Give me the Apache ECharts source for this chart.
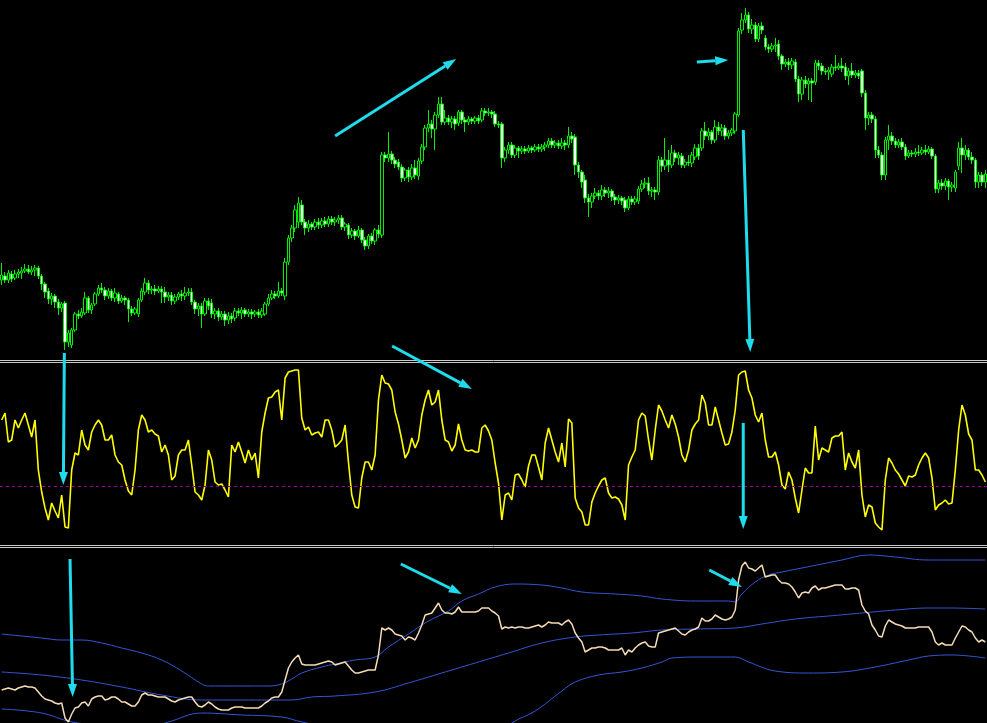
<!DOCTYPE html>
<html>
<head>
<meta charset="utf-8">
<script src="https://cdn.jsdelivr.net/npm/echarts@6/dist/echarts.min.js"></script>
<style>
html, body { margin: 0; padding: 0; background: #000; }
#chart { width: 987px; height: 723px; }
</style>
</head>
<body>
<div id="chart"></div>
<script>
// price candles, one entry per bar
var open = [
  120,124,120,126,122,126,127,129,131,128, 130,132,124,116,109,101,104,98,92,97,
  58,55,70,86,84,87,102,90,96,106, 112,110,104,109,102,106,99,102,100,91,
  87,86,100,108,117,110,111,109,111,108, 103,105,99,103,106,104,107,108,98,91,
  94,86,99,97,86,89,83,86,80,84, 82,89,87,90,86,88,86,88,85,86,
  96,102,106,104,109,104,138,162,172,178, 195,178,172,176,173,178,175,179,176,181,
  178,180,182,173,175,165,169,164,170,160, 154,164,159,170,165,245,242,246,240,238,
  233,222,230,223,232,224,239,253,272,276, 271,285,296,278,282,278,281,277,288,280,
  278,281,279,282,280,289,287,288,286,276, 276,242,250,255,245,252,249,251,249,252,
  250,253,251,253,255,259,255,257,254,257, 255,264,263,235,228,220,202,198,204,207,
  204,210,207,209,203,200,202,200,192,201, 198,199,211,216,217,209,210,208,240,234,
  240,235,247,242,244,235,238,237,243,252, 252,269,264,268,260,273,269,272,264,267,
  269,285,370,380,385,371,375,361,374,362, 353,351,354,356,344,336,338,335,338,321,
  306,320,316,319,318,337,334,329,328,326, 333,332,334,333,324,329,325,327,329,307,
  282,285,281,250,245,225,260,264,259,255, 258,253,244,247,246,248,247,250,248,251,
  244,211,217,214,219,213,212,234,252,245, 250,243,240,218,225,218
];
var close = [
  125,120,127,121,126,128,129,131,128,130, 132,124,116,108,101,104,98,92,96,58,
  67,70,86,84,88,102,90,95,106,112, 110,104,109,102,107,99,102,100,91,87,
  91,100,109,117,110,111,109,111,108,103, 105,99,103,106,104,107,108,98,91,94,
  86,99,94,86,89,83,86,80,84,81, 89,87,90,86,88,86,88,85,89,96,
  102,106,104,109,107,138,162,172,190,197, 178,172,176,173,178,175,179,176,181,178,
  180,182,173,176,165,169,164,170,160,154, 164,159,170,166,245,242,246,240,236,233,
  222,230,223,232,225,239,253,272,276,271, 285,296,278,282,278,281,276,288,280,278,
  281,279,282,279,289,287,288,286,276,275, 242,250,255,245,252,249,251,249,252,250,
  253,251,253,255,259,255,257,254,257,255, 264,261,235,228,218,202,198,204,207,204,
  210,207,209,203,200,202,199,192,201,198, 201,211,216,217,209,210,208,240,234,240,
  235,247,242,245,235,238,237,245,252,244, 269,264,268,260,273,269,272,264,267,270,
  286,369,380,385,371,375,361,374,370,353, 351,354,355,344,336,338,335,339,321,306,
  320,316,319,317,337,334,329,328,330,333, 332,334,332,324,329,325,327,324,307,282,
  285,281,250,245,225,260,264,259,255,258, 253,244,247,246,248,247,250,248,251,244,
  211,217,214,219,213,215,228,252,245,250, 243,240,218,225,218,226
];
var low = [
  115,117,117,118,120,122,121,127,126,125, 124,121,110,102,96,95,92,85,88,50,
  53,52,68,81,82,85,87,86,94,104, 107,100,101,99,98,96,97,95,78,84,
  85,83,98,105,106,106,105,107,97,97, 99,95,96,100,99,100,104,95,86,84,
  72,84,90,82,81,79,80,74,76,77, 79,84,81,83,83,81,83,82,82,84,
  94,100,101,102,104,100,135,158,168,172, 175,165,168,170,170,171,172,173,173,175,
  174,176,170,169,161,162,160,162,157,150, 151,156,155,162,162,238,238,236,232,230,
  218,219,218,220,221,220,236,250,268,262, 250,282,275,275,275,272,270,274,276,268,
  275,276,276,276,278,284,284,282,273,272, 232,238,246,242,242,242,246,246,247,247,
  248,248,248,249,252,252,252,251,251,250, 252,257,225,222,212,197,183,192,201,200,
  200,203,202,199,195,196,195,188,190,195, 195,196,208,212,205,203,200,205,228,230,
  228,232,238,235,232,232,234,233,240,240, 249,260,260,256,257,265,264,260,261,264,
  266,283,366,377,367,366,358,358,366,350, 347,348,348,340,330,333,330,331,318,298,
  300,312,300,298,315,330,325,325,320,323, 329,330,328,320,315,322,322,321,303,270,
  275,277,242,242,220,220,250,255,252,252, 250,240,242,243,243,244,245,245,246,241,
  207,207,210,210,200,208,208,230,227,240, 240,236,212,212,214,212
];
var high = [
  137,128,130,129,130,131,133,136,135,134, 135,134,126,118,112,107,106,101,98,99,
  70,72,88,90,92,108,104,97,108,115, 117,113,112,111,112,108,105,104,102,94,
  93,102,112,122,120,114,115,114,114,113, 108,108,106,108,110,113,112,112,100,97,
  97,102,102,101,92,92,89,89,88,87, 92,92,93,92,91,91,90,91,92,98,
  106,110,109,118,112,142,165,175,195,203, 200,181,180,178,181,182,182,183,184,184,
  183,185,185,178,177,172,171,174,172,163, 166,167,172,175,248,248,268,249,243,241,
  236,232,233,236,240,242,256,275,290,280, 288,303,303,290,285,284,284,290,290,283,
  284,283,284,285,292,292,292,290,289,279, 278,253,258,258,255,254,254,254,255,254,
  256,256,256,258,262,262,260,260,262,260, 273,268,266,238,230,225,206,207,212,210,
  215,213,213,211,206,205,204,203,204,204, 204,214,220,222,223,213,213,244,243,262,
  250,255,250,248,247,241,245,248,256,256, 272,278,272,270,280,278,276,275,270,272,
  288,372,387,392,388,381,378,377,378,365, 356,357,362,360,346,341,342,342,341,324,
  323,324,322,322,340,340,337,332,333,336, 345,337,342,337,332,337,330,330,331,310,
  288,288,284,254,248,263,275,268,262,261, 262,256,250,250,252,255,253,255,254,253,
  246,220,221,222,221,218,230,258,262,255, 252,248,242,228,228,230
];

// oscillator (middle pane), zero line dashed
var osc = [
  66,73,44,46,66,58,66,73,61,49, 66,16,-6,-22,-34,-17,-25,-32,-9,-41,
  -42,16,33,31,56,41,36,54,61,66, 61,46,46,51,31,24,21,6,-5,-9,
  16,56,71,66,54,56,52,50,34,41, 31,6,10,31,36,36,46,21,-6,-9,
  -14,1,36,26,4,1,2,-4,-11,41, 34,44,34,23,36,26,33,8,54,73,
  88,89,94,96,66,108,114,115,116,116, 68,56,59,51,53,54,49,66,66,56,
  39,42,46,61,24,-9,-21,-22,8,24, 24,16,31,86,111,103,102,96,74,62,
  46,28,34,48,38,46,71,86,96,81, 84,96,66,46,44,35,41,62,46,36,
  35,36,34,34,58,61,55,46,23,3, -34,-9,-7,-14,11,12,6,-1,20,31,
  31,19,6,43,58,46,34,24,43,19, 67,63,-12,-22,-26,-39,-39,-16,-7,0,
  6,8,-7,-12,-11,-13,-19,-34,21,29, 36,66,73,70,46,26,56,81,75,66,
  58,71,62,49,31,24,36,56,62,66, 91,83,61,61,79,66,53,41,42,54,
  76,111,114,115,96,88,71,64,73,46, 29,29,34,21,1,-3,14,6,-12,-27,
  -4,18,13,13,60,26,38,36,34,48, 50,50,54,16,33,24,18,36,-9,-31,
  -19,-21,-37,-41,-44,6,28,23,16,12, 6,0,10,9,11,21,28,33,28,8,
  -24,-19,-17,-14,-18,-17,16,56,81,71, 52,46,16,16,11,4
];

// lower pane: price line and bands
var priceLine = [
  60,61,62,61,60,62,63,64,63,63, 62,58,54,51,50,49,47,46,47,32,
  28,36,42,43,47,48,44,51,53,54, 54,50,51,53,53,51,48,48,46,44,
  44,48,55,57,55,55,54,53,53,53, 51,49,48,50,51,52,53,53,48,44,
  43,45,48,46,43,41,40,40,40,42, 43,43,43,42,42,42,42,42,44,47,
  49,52,53,53,58,70,82,88,92,95, 86,85,85,85,85,86,87,88,89,88,
  85,86,87,88,84,80,77,77,78,79, 80,80,80,95,122,120,122,120,116,115,
  114,110,113,112,110,117,125,135,136,137, 142,147,140,137,137,136,138,143,138,138,
  138,138,138,139,142,142,142,139,137,134, 121,123,122,123,122,123,123,122,122,123,
  124,125,123,125,128,127,127,127,125,128, 130,126,117,112,108,98,100,102,102,103,
  103,102,100,100,100,100,102,95,100,98, 102,105,107,108,104,103,103,117,118,119,
  120,121,122,119,116,115,118,120,121,123, 132,129,129,131,135,133,131,130,131,133,
  140,170,184,188,182,181,179,182,185,173, 174,175,175,170,167,167,166,163,158,152,
  157,158,157,162,164,160,162,162,163,164, 165,165,165,161,161,162,162,160,145,139,
  136,125,120,114,113,124,130,128,126,125, 124,122,122,122,122,123,123,123,123,118,
  108,105,107,105,105,105,112,118,124,123, 120,118,112,108,110,108
];
var upperBand = [[0,116],[6,114],[12,112],[18,110],[24,110],[30,107],[36,102],[42,97],[48,90],[54,79],
  [60,66],[62,64],[70,64],[80,64],[84,66],[87,71],[90,77],[96,83],[100,86],[106,90],[112,93],[116,103],
  [122,116],[128,129],[134,139],[138,149],[143,156],[148,163],[154,166],[162,165],[168,162],[174,158],
  [184,156],[192,154],[198,151],[208,149],[218,149],[220,148],[222,156],[226,168],[230,175],[234,178],
  [240,182],[246,186],[252,190],[260,195],[268,193],[278,190],[288,190],[295,190]];
var middleBand = [[0,78],[12,75],[24,70],[36,63],[48,55],[60,50],[72,50],[87,50],[93,53],[100,54],
  [112,58],[122,67],[132,77],[142,87],[152,97],[162,107],[172,113],[179,115],[189,117],[198,120],
  [208,121],[220,122],[228,126],[238,131],[248,134],[258,137],[268,140],[278,142],[284,142],[295,141]];
var lowerBand = [[0,41],[12,37],[21,28],[30,25],[42,21],[50,28],[60,37],[72,35],[84,33],[90,28],
  [100,22],[120,18],[135,9],[150,16],[153,27],[160,39],[168,59],[172,68],[179,75],[186,78],[192,82],
  [198,88],[201,92],[210,93],[220,93],[224,88],[232,79],[242,77],[252,78],[262,83],[272,90],[278,94],
  [285,95],[295,92]];

// hand-drawn arrows: pane, start [bar, value], end [bar, value]
var arrows = [
  {pane: 0, from: [100.0, 264], to: [136.3, 341]},
  {pane: 0, from: [208.5, 338], to: [217.9, 340]},
  {pane: 0, from: [222.4, 270], to: [224.5, 48]},
  {pane: 1, from: [18.8, 133], to: [18.5, 1]},
  {pane: 1, from: [117.1, 140], to: [141.0, 97]},
  {pane: 1, from: [222.4, 63], to: [222.4, -43]},
  {pane: 2, from: [20.5, 191], to: [21.3, 53]},
  {pane: 2, from: [119.7, 186], to: [138.0, 156]},
  {pane: 2, from: [212.2, 180], to: [222.0, 163]}
];

var N = open.length;
var bars = [];
var ohlc = [];
for (var i = 0; i < N; i++) {
  bars.push(i);
  ohlc.push([open[i], close[i], low[i], high[i]]);
}
var sepLine = {show: true, onZero: false, lineStyle: {color: '#c8c8c8', width: 1}};
var noLine = {show: false, onZero: false};
function valX(grid, pos, line) {
  return {type: 'value', gridIndex: grid, position: pos, min: -0.5, max: N - 0.5,
    axisLine: line, axisTick: {show: false}, axisLabel: {show: false}, splitLine: {show: false}};
}
function valY(grid, mn, mx) {
  return {type: 'value', gridIndex: grid, min: mn, max: mx, show: false};
}
function band(data) {
  return {type: 'line', xAxisIndex: 3, yAxisIndex: 2, data: data, smooth: 0.4, symbol: 'none',
    lineStyle: {color: '#3456d6', width: 1}, z: 2};
}

var chart = echarts.init(document.getElementById('chart'));
chart.setOption({
  backgroundColor: '#000',
  animation: false,
  grid: [
    {left: 0, right: 0, top: 0, height: 360},
    {left: 0, right: 0, top: 362, height: 183},
    {left: 0, right: 0, top: 547, height: 176}
  ],
  xAxis: [
    {type: 'category', gridIndex: 0, data: bars, boundaryGap: true, position: 'bottom',
      axisLine: sepLine, axisTick: {show: false}, axisLabel: {show: false}, splitLine: {show: false}},
    valX(0, 'top', noLine),
    valX(1, 'top', sepLine),
    valX(2, 'top', sepLine),
    valX(1, 'bottom', sepLine)
  ],
  yAxis: [
    valY(0, 40, 400),
    valY(1, -59, 124),
    valY(2, 27, 203)
  ],
  series: [
    {
      type: 'candlestick', xAxisIndex: 0, yAxisIndex: 0, data: ohlc, barWidth: 3,
      itemStyle: {color: '#000', color0: '#ffffff', borderColor: '#00ee00', borderColor0: '#00ee00',
        borderColorDoji: '#00ee00', borderWidth: 1}
    },
    {
      type: 'line', xAxisIndex: 2, yAxisIndex: 1, symbol: 'none',
      data: osc.map(function (v, k) { return [k, v]; }),
      lineStyle: {color: '#ffff00', width: 1.6},
      markLine: {silent: true, symbol: 'none', label: {show: false},
        lineStyle: {color: '#a000a0', type: [3, 3], width: 1}, data: [{yAxis: 0}]}
    },
    band(upperBand),
    band(middleBand),
    band(lowerBand),
    {
      type: 'line', xAxisIndex: 3, yAxisIndex: 2, symbol: 'none', z: 3,
      data: priceLine.map(function (v, k) { return [k, v]; }),
      lineStyle: {color: '#f5dcb4', width: 1.5}
    }
  ]
});

// arrows go through the panes' own scales
var paneX = [1, 2, 3];
var shapes = [];
arrows.forEach(function (a) {
  var f = {xAxisIndex: paneX[a.pane], yAxisIndex: a.pane};
  var p0 = chart.convertToPixel(f, a.from);
  var p1 = chart.convertToPixel(f, a.to);
  var dx = p1[0] - p0[0], dy = p1[1] - p0[1];
  var len = Math.sqrt(dx * dx + dy * dy);
  var ux = dx / len, uy = dy / len;
  var head = 13, half = 4.5;
  var bx = p1[0] - ux * head, by = p1[1] - uy * head;
  shapes.push({type: 'line', z: 100, shape: {x1: p0[0], y1: p0[1], x2: bx, y2: by},
    style: {stroke: '#1fdcec', lineWidth: 3}});
  shapes.push({type: 'polygon', z: 100,
    shape: {points: [[p1[0], p1[1]], [bx - uy * half, by + ux * half], [bx + uy * half, by - ux * half]]},
    style: {fill: '#1fdcec'}});
});
chart.setOption({graphic: shapes});
</script>
</body>
</html>
